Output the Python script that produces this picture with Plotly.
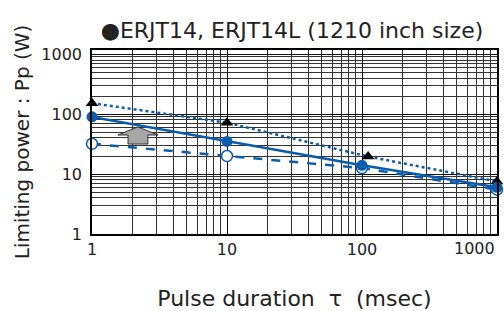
import plotly.graph_objects as go

# Data
pulse_ms = [1, 10, 100, 1000]
power_filled = [90, 35, 14, 6]          # solid line, filled circles
power_open = [32, 20, 12.6, 5.5]        # dashed line, open circles
tri_x = [1, 10, 111, 1000]
power_tri = [152, 72, 19.6, 7.5]        # dotted line, triangles

x_ticks = [1, 10, 100, 1000]
x_tick_text = ["1", "10", "100", ""]   # last label drawn right-aligned below
last_x_label = "1000"
y_ticks = [1, 10, 100, 1000]
y_tick_text = ["1", "10", "100", "1000"]

BLUE = "#0b5cad"
FONT = "DejaVu Sans"
TXT = "#222222"

fig = go.Figure()
fig.add_trace(go.Scatter(x=tri_x, y=power_tri, mode="lines+markers",
                         line=dict(color=BLUE, width=2.5, dash="dot"),
                         marker=dict(symbol="triangle-up", size=11, color="black"),
                         cliponaxis=False, showlegend=False))
fig.add_trace(go.Scatter(x=pulse_ms, y=power_open, mode="lines+markers",
                         line=dict(color=BLUE, width=2.5, dash="dash"),
                         marker=dict(symbol="circle", size=11, color="white",
                                     line=dict(color=BLUE, width=1.5)),
                         cliponaxis=False, showlegend=False))
fig.add_trace(go.Scatter(x=pulse_ms, y=power_filled, mode="lines+markers",
                         line=dict(color=BLUE, width=2.5),
                         marker=dict(symbol="circle", size=11, color=BLUE),
                         cliponaxis=False, showlegend=False))

# gray up-arrow (paper coords)
fig.add_shape(type="path", xref="paper", yref="paper",
              path="M 0.089 0.489 L 0.138 0.489 L 0.138 0.538 L 0.163 0.538 "
                   "L 0.1135 0.582 L 0.064 0.538 L 0.089 0.538 Z",
              fillcolor="#a6a6a6", line=dict(color="#333333", width=1))

# last x tick label, right-aligned to the plot edge as in the reference
fig.add_annotation(text=last_x_label, xref="paper", yref="paper", x=1, y=0,
                   xanchor="right", yanchor="top", yshift=-3, showarrow=False,
                   font=dict(family=FONT, size=16, color=TXT))

axis_common = dict(type="log", showline=True, linecolor="black", linewidth=1.5,
                   mirror=True, showgrid=True, gridcolor="#111111", gridwidth=1,
                   ticks="", tickfont=dict(family=FONT, size=16, color=TXT),
                   minor=dict(dtick="D1", showgrid=True, gridcolor="#333333",
                              gridwidth=1, ticks=""),
                   zeroline=False, automargin=False)

fig.update_xaxes(**axis_common, range=[0, 3], tickvals=x_ticks,
                 ticktext=x_tick_text,
                 title=dict(text="Pulse duration\u00a0\u00a0τ\u00a0\u00a0(msec)",
                            font=dict(family=FONT, size=22, color=TXT),
                            standoff=37))
fig.update_yaxes(**axis_common, range=[0, 3.07], tickvals=y_ticks,
                 ticktext=y_tick_text, ticklabelstandoff=5,
                 title=dict(text="Limiting power : Pp (W)",
                            font=dict(family=FONT, size=20, color=TXT),
                            standoff=6))

fig.update_layout(
    width=504, height=311,
    margin=dict(l=92, r=7, t=50, b=77, autoexpand=False),
    paper_bgcolor="white", plot_bgcolor="white",
    title=dict(text="●ERJT14, ERJT14L (1210 inch size)",
               font=dict(family=FONT, size=22, color=TXT),
               xref="container", x=292 / 504, xanchor="center",
               yref="container", y=1 - 30 / 311, yanchor="middle"),
)

fig.write_html("out.html", config={"displayModeBar": False},
               post_script="document.body.style.margin='0';")
